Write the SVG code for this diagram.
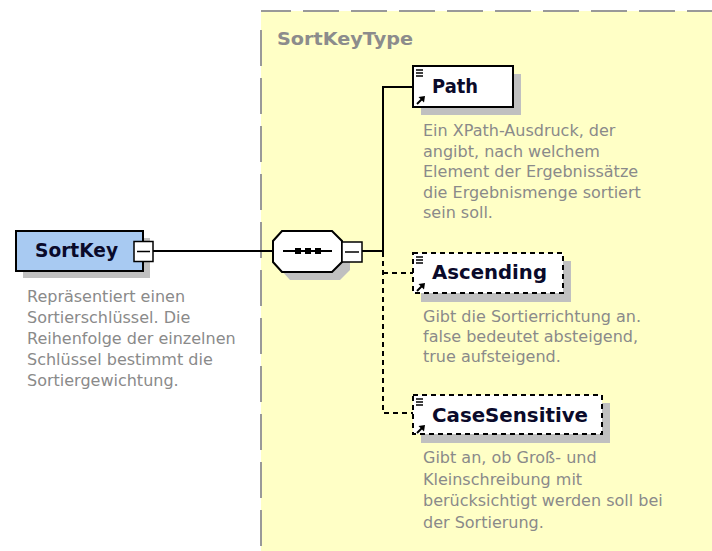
<svg xmlns="http://www.w3.org/2000/svg" width="712" height="551" viewBox="0 0 712 551">
<style>
.shadow{fill:#c0c0c0;stroke:none}
.box{fill:#ffffff;stroke:#000;stroke-width:2}
.opt{fill:#ffffff;stroke:#000;stroke-width:2;stroke-dasharray:5 4}
.title{font-family:"DejaVu Sans",Verdana,sans-serif;font-weight:bold;font-size:19px;fill:#0a0a2a}
.desc{font-family:"DejaVu Sans",Verdana,sans-serif;font-size:16px;fill:#8a8a8a}
.line{fill:none;stroke:#000;stroke-width:2}
.dline{fill:none;stroke:#000;stroke-width:2;stroke-dasharray:5 4}
.minus{fill:#fff;stroke:#000;stroke-width:1.5}
.ico{stroke:#000;stroke-width:1.5}
</style>
<defs>
<g id="icons">
<line class="ico" x1="0" y1="0" x2="7" y2="0"/>
<line class="ico" x1="0" y1="3" x2="7" y2="3"/>
<line class="ico" x1="0" y1="6" x2="7" y2="6"/>
<line x1="1" y1="34" x2="6.5" y2="28.5" stroke="#000" stroke-width="2"/>
<polygon points="9,26 2.5,27 8,32.5" fill="#000"/>
</g>
</defs>
<rect width="712" height="551" fill="#ffffff"/>

<g id="SortKeyType">
<rect x="261" y="11" width="460" height="550" fill="#ffffc6"/>
<line x1="261" y1="30" x2="261" y2="551" stroke="#999" stroke-width="2" stroke-dasharray="36 12"/>
<line x1="261" y1="11" x2="712" y2="11" stroke="#999" stroke-width="2" stroke-dasharray="36 12" stroke-dashoffset="6"/>
<text x="277" y="45" font-family="DejaVu Sans,Verdana,sans-serif" font-weight="bold" font-size="17.5" fill="#8c8c8c" textLength="136" lengthAdjust="spacingAndGlyphs">SortKeyType</text>
</g>

<g id="connectors">
<line class="line" x1="153" y1="251" x2="273" y2="251"/>
<line class="line" x1="362" y1="251" x2="384" y2="251"/>
<polyline class="line" points="383,252 383,87 413,87"/>
<polyline class="dline" points="383,252 383,413 413,413"/>
<line class="dline" x1="383" y1="273" x2="413" y2="273"/>
</g>

<g id="SortKey">
<rect class="shadow" x="23" y="238" width="127" height="40"/>
<rect x="16" y="231" width="127" height="40" fill="#a8caf2" stroke="#000" stroke-width="2"/>
<text class="title" x="35" y="257" textLength="83" lengthAdjust="spacingAndGlyphs">SortKey</text>
<rect class="minus" x="134" y="241.5" width="19" height="20"/>
<line x1="137" y1="251.5" x2="150" y2="251.5" stroke="#000" stroke-width="1.5"/>
<text class="desc" x="27" y="301.5">Repräsentiert einen</text>
<text class="desc" x="27" y="322.5">Sortierschlüssel. Die</text>
<text class="desc" x="27" y="343.5">Reihenfolge der einzelnen</text>
<text class="desc" x="27" y="364.5">Schlüssel bestimmt die</text>
<text class="desc" x="27" y="385.5">Sortiergewichtung.</text>
</g>

<g id="sequence">
<polygon class="shadow" points="290,239 340,239 350,249 350,270 340,280 290,280 281,270 281,249"/>
<polygon class="box" points="282,231 332,231 342,241 342,262 332,272 282,272 273,262 273,241"/>
<line x1="283" y1="251" x2="332" y2="251" stroke="#000" stroke-width="2"/>
<rect x="295" y="248" width="6" height="6" fill="#000"/>
<rect x="305" y="248" width="6" height="6" fill="#000"/>
<rect x="315" y="248" width="6" height="6" fill="#000"/>
<rect class="minus" x="342" y="242" width="20" height="20"/>
<line x1="345" y1="252" x2="359" y2="252" stroke="#000" stroke-width="1.5"/>
</g>

<g id="Path">
<rect class="shadow" x="421" y="74" width="100" height="41"/>
<rect class="box" x="413" y="66" width="100" height="41"/>
<use href="#icons" x="416" y="70"/>
<text class="title" x="432" y="93" textLength="46" lengthAdjust="spacingAndGlyphs">Path</text>
<text class="desc" x="423" y="136">Ein XPath-Ausdruck, der</text>
<text class="desc" x="423" y="156.5">angibt, nach welchem</text>
<text class="desc" x="423" y="177">Element der Ergebnissätze</text>
<text class="desc" x="423" y="197.5">die Ergebnismenge sortiert</text>
<text class="desc" x="423" y="218">sein soll.</text>
</g>

<g id="Ascending">
<rect class="shadow" x="421" y="261" width="150" height="41"/>
<rect class="opt" x="413" y="253" width="150" height="40"/>
<use href="#icons" x="416" y="257"/>
<text class="title" x="432" y="279" textLength="115" lengthAdjust="spacingAndGlyphs">Ascending</text>
<text class="desc" x="423" y="322">Gibt die Sortierrichtung an.</text>
<text class="desc" x="423" y="342">false bedeutet absteigend,</text>
<text class="desc" x="423" y="362">true aufsteigend.</text>
</g>

<g id="CaseSensitive">
<rect class="shadow" x="421" y="403" width="189" height="40"/>
<rect class="opt" x="413" y="395" width="189" height="39"/>
<use href="#icons" x="416" y="399"/>
<text class="title" x="432" y="422" textLength="156" lengthAdjust="spacingAndGlyphs">CaseSensitive</text>
<text class="desc" x="423" y="463">Gibt an, ob Groß- und</text>
<text class="desc" x="423" y="484.5">Kleinschreibung mit</text>
<text class="desc" x="423" y="506">berücksichtigt werden soll bei</text>
<text class="desc" x="423" y="527.5">der Sortierung.</text>
</g>
</svg>
